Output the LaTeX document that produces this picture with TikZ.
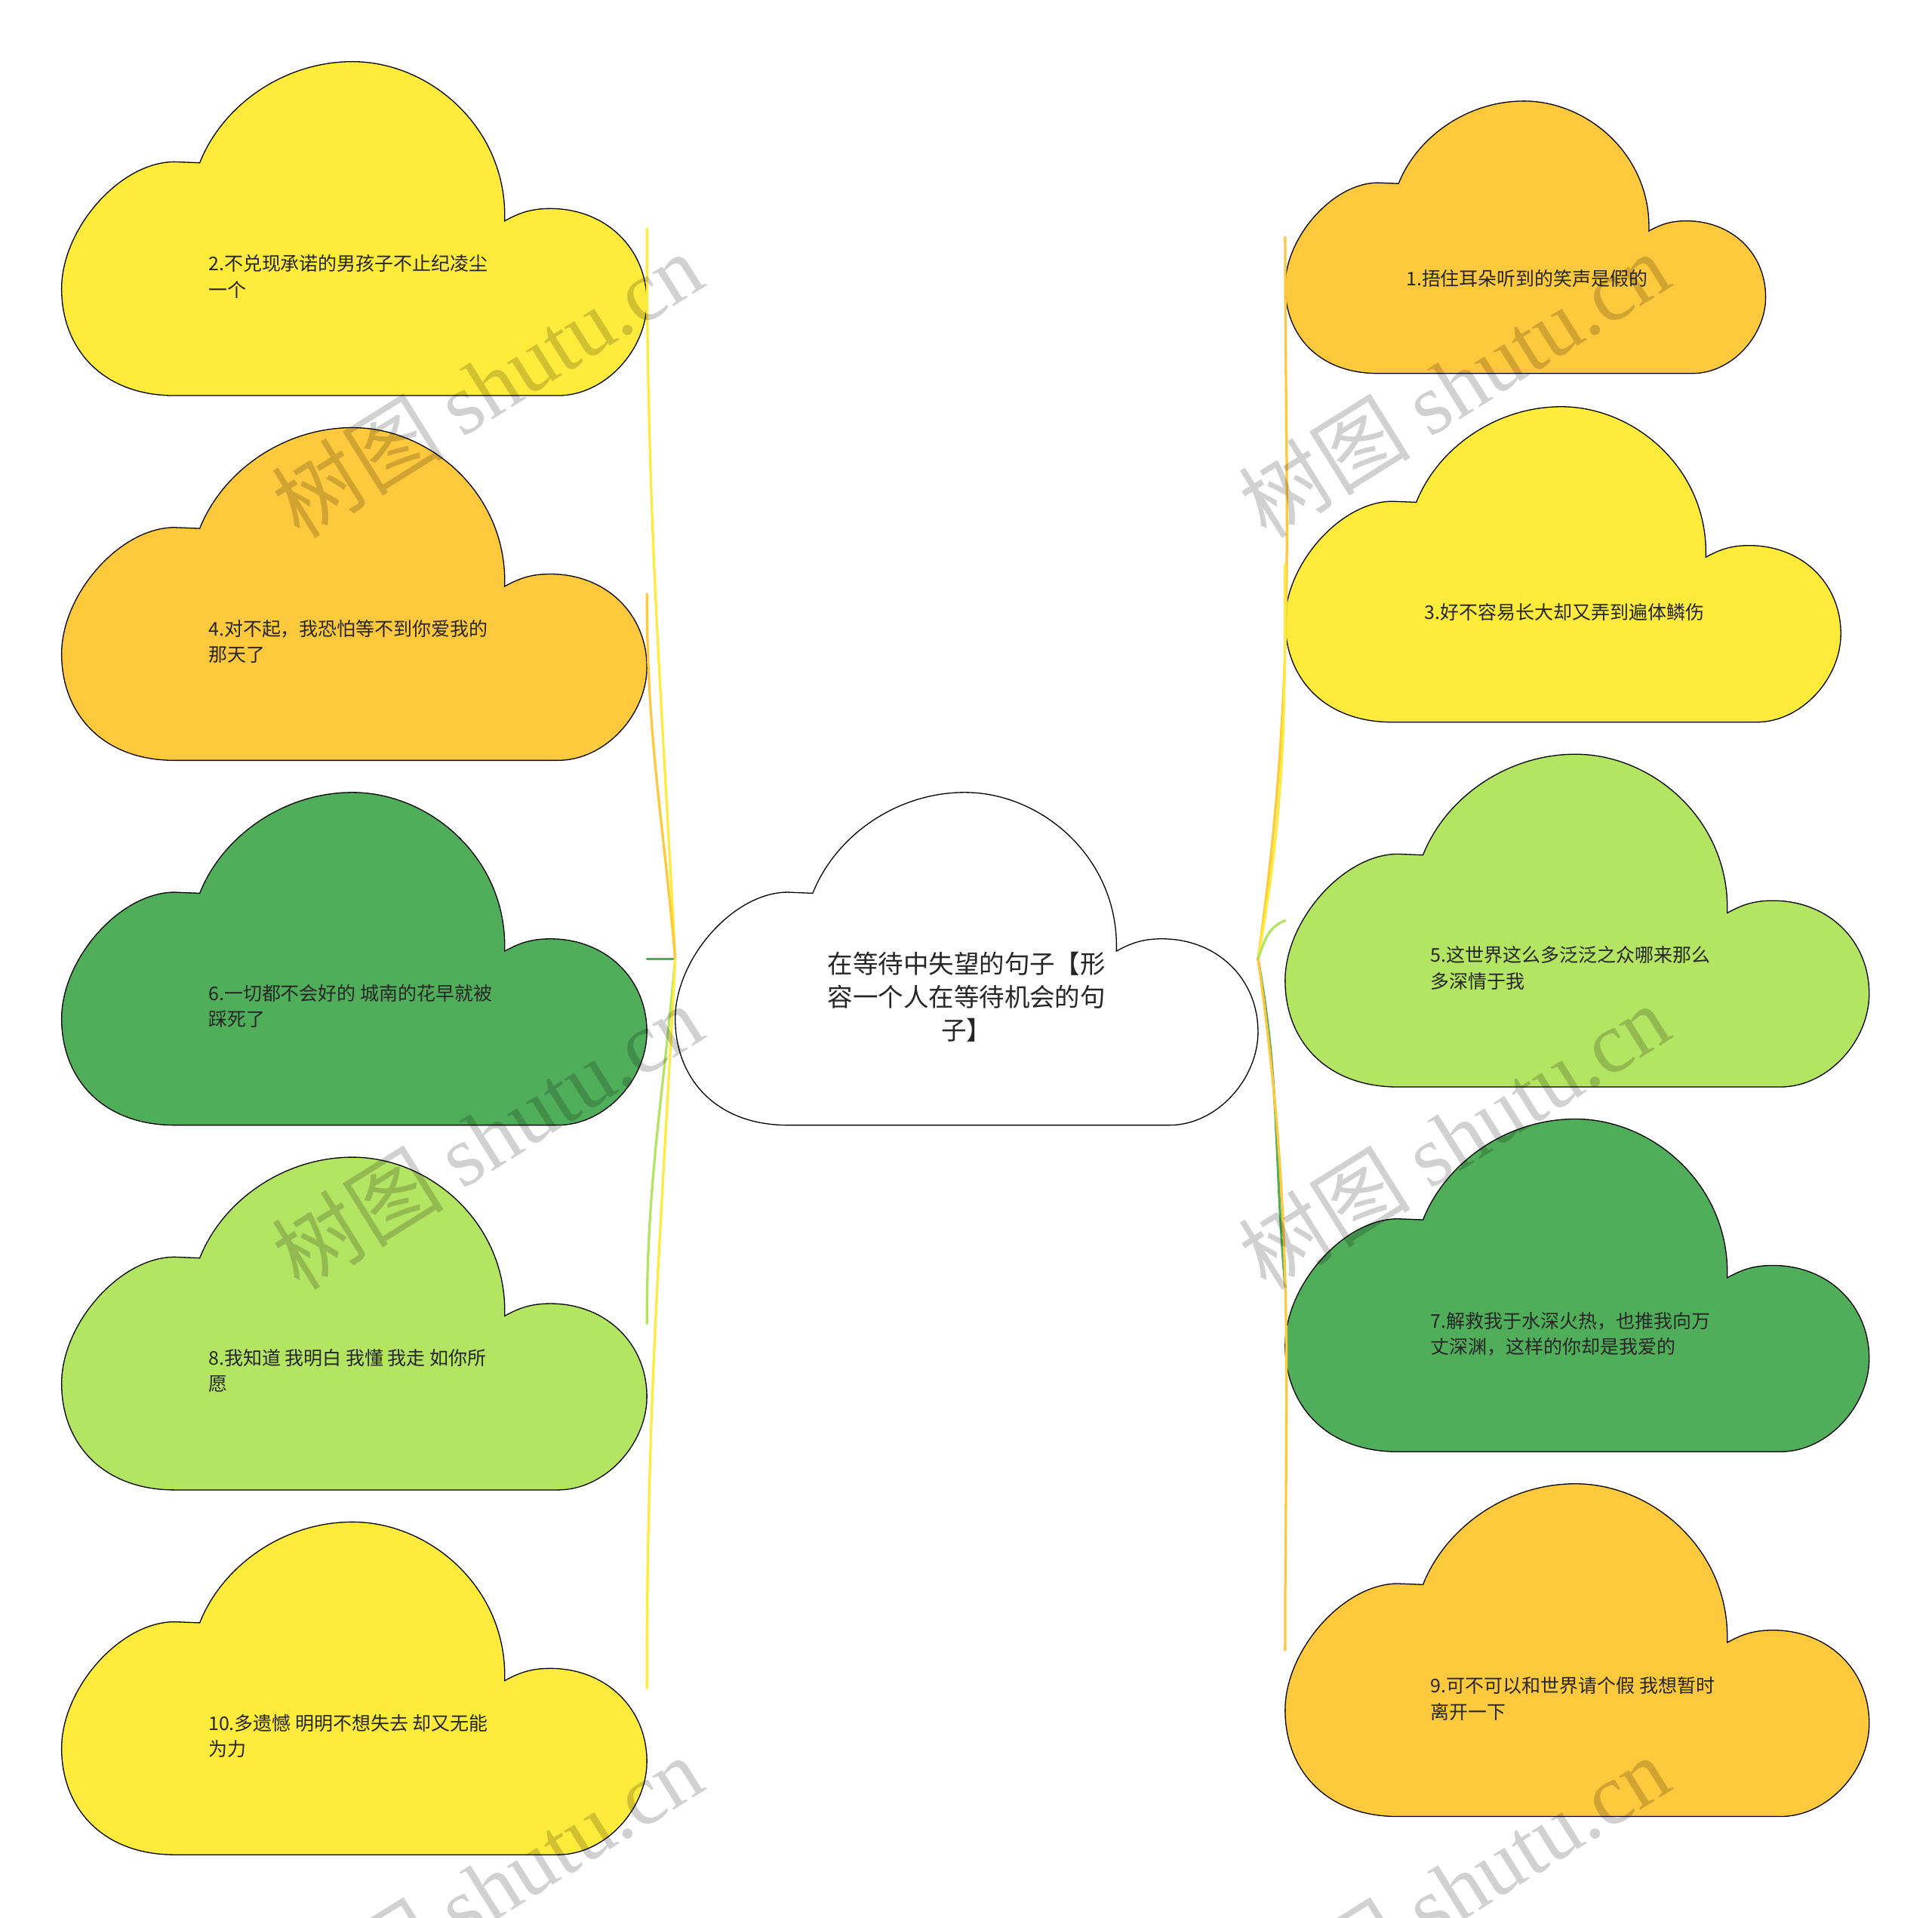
\documentclass[tikz,border=0pt]{standalone}
\usepackage{fontspec}
\setmainfont{Noto Sans CJK SC}
\newfontfamily\cjk{Noto Sans CJK SC}
\newfontfamily\wmlatin{Liberation Serif}
\definecolor{cyellow}{HTML}{FFEB3B}
\definecolor{corange}{HTML}{FFC93D}
\definecolor{cgreen}{HTML}{50AE5B}
\definecolor{clight}{HTML}{B3E462}
\definecolor{ctext}{HTML}{262626}
\newcommand{\cloudshape}[5]{%
  \begin{scope}[shift={(#1,#2)},xscale=#3,yscale=#4]
    \filldraw[cloudline,fill=#5]
      (0.236,0.303) .. controls (0.275,0.13) and (0.38,0) .. (0.497,0)
      .. controls (0.63,0) and (0.762,0.20) .. (0.757,0.477)
      .. controls (0.78,0.455) and (0.80,0.44) .. (0.835,0.44)
      .. controls (0.93,0.44) and (1,0.56) .. (1,0.72)
      .. controls (1,0.86) and (0.93,1) .. (0.848,1)
      -- (0.193,1)
      .. controls (0.07,1) and (0,0.86) .. (0,0.68)
      .. controls (0,0.50) and (0.10,0.30) .. (0.193,0.30)
      -- cycle;
  \end{scope}}
\begin{document}
\begin{tikzpicture}[x=1pt,y=-1pt,
  cloudline/.style={draw=black,line width=0.8pt},
  box/.style={draw=none,inner sep=0pt,outer sep=0pt},
  leaftext/.style={font=\fontsize{15.3}{21}\selectfont,text=ctext,align=left,inner sep=0pt,anchor=west},
  roottext/.style={font=\fontsize{20.5}{27}\selectfont,text=ctext,align=center,inner sep=0pt},
  link/.style={line width=2pt,line cap=round},
  wm/.style={text=black,opacity=0.18,rotate=32,inner sep=0pt}]
\useasboundingbox (0,0) rectangle (1568,1556);
\fill[white] (0,0) rectangle (1568,1556);

% clouds
\cloudshape{548}{643}{473}{270}{white}
\cloudshape{50}{50}{475}{271}{cyellow}
\cloudshape{50}{347}{475}{270}{corange}
\cloudshape{50}{643}{475}{270}{cgreen}
\cloudshape{50}{939}{475}{270}{clight}
\cloudshape{50}{1235}{475}{270}{cyellow}
\cloudshape{1043}{82}{390}{221}{corange}
\cloudshape{1043}{330}{451}{256}{cyellow}
\cloudshape{1043}{612}{474}{270}{clight}
\cloudshape{1043}{908}{474}{270}{cgreen}
\cloudshape{1043}{1204}{474}{270}{corange}

% bounding boxes as named nodes
\node[box,minimum width=473pt,minimum height=270pt] (root) at (784.5,778) {};
\node[box,minimum width=475pt,minimum height=271pt] (c2) at (287.5,185.5) {};
\node[box,minimum width=475pt,minimum height=270pt] (c4) at (287.5,482) {};
\node[box,minimum width=475pt,minimum height=270pt] (c6) at (287.5,778) {};
\node[box,minimum width=475pt,minimum height=270pt] (c8) at (287.5,1074) {};
\node[box,minimum width=475pt,minimum height=270pt] (c10) at (287.5,1370) {};
\node[box,minimum width=390pt,minimum height=221pt] (c1) at (1238,192.5) {};
\node[box,minimum width=451pt,minimum height=256pt] (c3) at (1268.5,458) {};
\node[box,minimum width=474pt,minimum height=270pt] (c5) at (1280,747) {};
\node[box,minimum width=474pt,minimum height=270pt] (c7) at (1280,1043) {};
\node[box,minimum width=474pt,minimum height=270pt] (c9) at (1280,1339) {};

% texts
\node[roottext] (troot) at (784.5,809) {在等待中失望的句子【形\\容一个人在等待机会的句\\子】};
\node[leaftext] (t2) at (169,224.5) {2.不兑现承诺的男孩子不止纪凌尘\\一个};
\node[leaftext] (t4) at (169,520.5) {4.对不起，我恐怕等不到你爱我的\\那天了};
\node[leaftext] (t6) at (169,816.5) {6.一切都不会好的 城南的花早就被\\踩死了};
\node[leaftext] (t8) at (169,1112.5) {8.我知道 我明白 我懂 我走 如你所\\愿};
\node[leaftext] (t10) at (169,1408.5) {10.多遗憾 明明不想失去 却又无能\\为力};
\node[leaftext] (t1) at (1141,226) {1.捂住耳朵听到的笑声是假的};
\node[leaftext] (t3) at (1156,497) {3.好不容易长大却又弄到遍体鳞伤};
\node[leaftext] (t5) at (1161,785.5) {5.这世界这么多泛泛之众哪来那么\\多深情于我};
\node[leaftext] (t7) at (1161,1082.5) {7.解救我于水深火热，也推我向万\\丈深渊，这样的你却是我爱的};
\node[leaftext] (t9) at (1161,1378.5) {9.可不可以和世界请个假 我想暂时\\离开一下};

% connectors left
\draw[link,draw=cyellow] (root.west) to[out=93,in=-90] (c2.east);
\draw[link,draw=corange] (root.west) to[out=95,in=-90] (c4.east);
\draw[link,draw=cgreen] (root.west) -- (c6.east);
\draw[link,draw=clight] (root.west) to[out=-95,in=90] (c8.east);
\draw[link,draw=cyellow] (root.west) to[out=-93,in=90] (c10.east);
% connectors right
\draw[link,draw=corange] (root.east) to[out=82,in=-90] (c1.west);
\draw[link,draw=cyellow] (root.east) to[out=80,in=-90] (c3.west);
\draw[link,draw=clight] (root.east) to[out=70,in=-160] (c5.west);
\draw[link,draw=cgreen] (root.east) to[out=-80,in=95] (c7.west);
\draw[link,draw=corange] (root.east) to[out=-82,in=90] (c9.west);

% watermarks
\foreach \wx/\wy in {395/312,395/922,395/1532,1180/312,1180/922,1180/1532}{
  \node[wm] at (\wx,\wy) {\fontsize{70}{74}\selectfont\cjk 树图 \wmlatin shutu.cn};
}
\end{tikzpicture}
\end{document}
